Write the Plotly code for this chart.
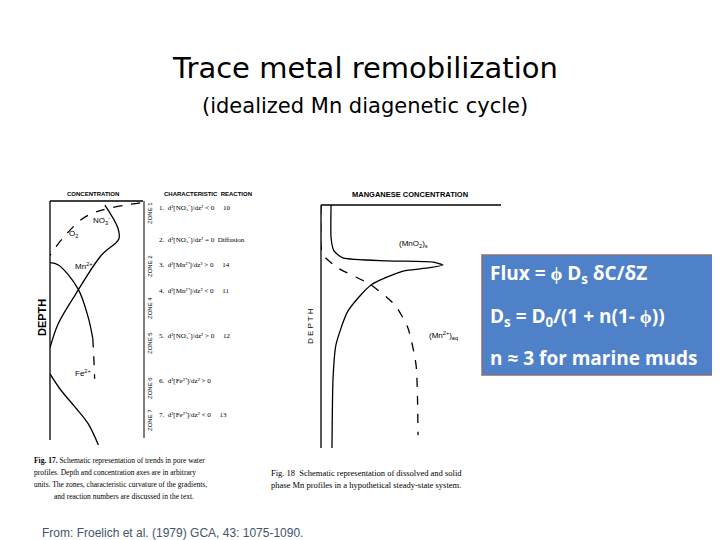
import plotly.graph_objects as go

# Fig 17 (pore water profiles): concentration (arb.), depth (arb.)
no3_c = [5.9, 7.3, 7.4, 5.5, 2.7, 0.86, 0.0]
no3_d = [0.17, 1.14, 1.6, 2.3, 3.97, 5.2, 6.2]
o2_c = [9.7, 4.1, 1.4, 0.0]
o2_d = [0.08, 0.6, 1.56, 2.3]
mn_c = [0.0, 0.9, 3.0, 4.1, 4.6]
mn_d = [2.6, 2.7, 3.7, 4.9, 5.8]
mn_dash_c = [4.6, 4.7, 4.8]
mn_dash_d = [5.8, 6.5, 7.5]
fe_c = [0.0, 1.2, 2.7, 4.1, 5.2]
fe_d = [7.3, 8.0, 8.7, 9.4, 10.3]

# Fig 18 (Mn profiles)
mno2_c = [0.56, 0.56, 0.72, 1.22, 3.72, 6.22, 6.78, 5.94, 4.56, 2.78, 1.5, 0.83, 0.67, 0.61]
mno2_d = [0, 1.36, 1.89, 2.18, 2.3, 2.35, 2.47, 2.59, 2.72, 3.29, 4.36, 5.76, 7.12, 10]
mnaq_c = [0, 0, 0.11, 0.94, 2.78, 4.11, 4.83, 5.28, 5.39]
mnaq_d = [0, 1.7, 2.06, 2.59, 3.29, 4.12, 5.06, 6.58, 9.47]

reactions = ["1.  d²[NO₃⁻]/dz² < 0     10", "2.  d²[NO₃⁻]/dz² = 0  Diffusion",
             "3.  d²[Mn²⁺]/dz² > 0     14", "4.  d²[Mn²⁺]/dz² < 0     11",
             "5.  d²[NO₃⁻]/dz² > 0     12", "6.  d²[Fe²⁺]/dz² > 0",
             "7.  d²[Fe²⁺]/dz² < 0     13"]
reaction_y = [200, 232, 257, 283, 328, 373, 407]

W, H = 720, 540
px = lambda x: x / W
py = lambda y: 1 - y / H

fig = go.Figure()
k = dict(color="black", width=1.3)
def add(x, y, ax, dash=None, smooth=1.0):
    fig.add_trace(go.Scatter(x=x, y=y, mode="lines", xaxis=ax[0], yaxis=ax[1],
                             line=dict(color="black", width=1.3, dash=dash, shape="spline", smoothing=smooth),
                             showlegend=False, hoverinfo="skip"))
A1 = ("x", "y"); A2 = ("x2", "y2")
add(no3_c, no3_d, A1); add(o2_c, o2_d, A1, "dash"); add(mn_c, mn_d, A1)
add(mn_dash_c, mn_dash_d, A1, "dash"); add(fe_c, fe_d, A1)
add(mno2_c, mno2_d, A2, smooth=0.6); add(mnaq_c, mnaq_d, A2, "dash", smooth=0.6)

ax_common = dict(showgrid=False, zeroline=False, showticklabels=False, ticks="")
fig.update_layout(
    width=W, height=H, margin=dict(l=0, r=0, t=0, b=0),
    paper_bgcolor="white", plot_bgcolor="rgba(0,0,0,0)",
    xaxis=dict(domain=[px(42), px(135)], range=[0, 10], **ax_common),
    yaxis=dict(domain=[py(437), py(193)], range=[10.3, 0], **ax_common),
    xaxis2=dict(domain=[px(313), px(493)], range=[0, 10], anchor="y2", **ax_common),
    yaxis2=dict(domain=[py(440), py(197)], range=[10, 0], anchor="x2", **ax_common),
)

shapes = [
    dict(type="line", xref="paper", yref="paper", x0=px(42), x1=px(42), y0=py(193), y1=py(432), line=k),
    dict(type="line", xref="paper", yref="paper", x0=px(42), x1=px(135), y0=py(193), y1=py(193), line=k),
    dict(type="line", xref="paper", yref="paper", x0=px(313), x1=px(313), y0=py(197), y1=py(440), line=k),
    dict(type="line", xref="paper", yref="paper", x0=px(313), x1=px(493), y0=py(197), y1=py(197), line=k),
    dict(type="line", xref="paper", yref="paper", x0=px(136), x1=px(136), y0=py(193), y1=py(430), line=dict(color="black", width=1)),
    dict(type="rect", xref="paper", yref="paper", x0=px(474), x1=px(707), y0=py(367), y1=py(247),
         fillcolor="#4f81c8", line=dict(color="#8a6d7a", width=1.5)),
]
fig.update_layout(shapes=shapes)

def T(x, y, text, size=10, color="black", family="Liberation Sans", anchor="left", angle=0, bold=False):
    if bold: text = "<b>" + text + "</b>"
    fig.add_annotation(x=px(x), y=py(y), xref="paper", yref="paper", text=text, showarrow=False,
                       xanchor=anchor, yanchor="middle", textangle=angle, borderpad=0,
                       font=dict(size=size, color=color, family=family))

T(357, 60, "Trace metal remobilization", 29, family="DejaVu Sans", anchor="center")
T(357, 98, "(idealized Mn diagenetic cycle)", 21, family="DejaVu Sans", anchor="center")
T(33, 525, "From: Froelich et al. (1979) GCA, 43: 1075-1090.", 12, color="#44546a")

T(85, 186, "CONCENTRATION", 6, anchor="center", bold=True)
T(200, 186, "CHARACTERISTIC  REACTION", 6, anchor="center", bold=True)
T(34, 310, "DEPTH", 11, anchor="center", angle=-90, bold=True)
T(60, 226, "O<sub>2</sub>", 8); T(84, 212, "NO<sub>3</sub><sup>-</sup>", 8)
T(66, 258, "Mn<sup>2+</sup>", 8); T(66, 365, "Fe<sup>2+</sup>", 8)
for y, r in zip(reaction_y, reactions):
    T(150, y, r, 7, family="Liberation Serif")
zones = [("ZONE 1", 205), ("ZONE 2", 258), ("ZONE 4", 300), ("ZONE 5", 335), ("ZONE 6", 380), ("ZONE 7", 412)]
for z, y in zones:
    T(142, y, z, 6, anchor="center", angle=-90)
T(25, 452, "<b>Fig. 17.</b> Schematic representation of trends in pore water", 7.5, family="Liberation Serif")
T(25, 464, "profiles. Depth and concentration axes are in arbitrary", 7.5, family="Liberation Serif")
T(25, 476, "units. The zones, characteristic curvature of the gradients,", 7.5, family="Liberation Serif")
T(45, 488, "and reaction numbers are discussed in the text.", 7.5, family="Liberation Serif")

T(402, 186, "MANGANESE CONCENTRATION", 7.5, anchor="center", bold=True)
T(302, 318, "D E P T H", 8, anchor="center", angle=-90)
T(390, 236, "(MnO<sub>2</sub>)<sub>s</sub>", 8); T(420, 327, "(Mn<sup>2+</sup>)<sub>aq</sub>", 8)
T(262, 465, "Fig. 18  Schematic representation of dissolved and solid", 8.5, family="Liberation Serif")
T(262, 477, "phase Mn profiles in a hypothetical steady-state system.", 8.5, family="Liberation Serif")

T(481, 266, "<b>Flux = ϕ D<sub>s</sub> δC/δZ</b>", 19, color="white", family="Open Sans")
T(481, 309, "<b>D<sub>s</sub> = D<sub>0</sub>/(1 + n(1- ϕ))</b>", 19, color="white", family="Open Sans")
T(481, 350, "<b>n ≈ 3 for marine muds</b>", 19, color="white", family="Open Sans")

fig.write_html("out.html")
